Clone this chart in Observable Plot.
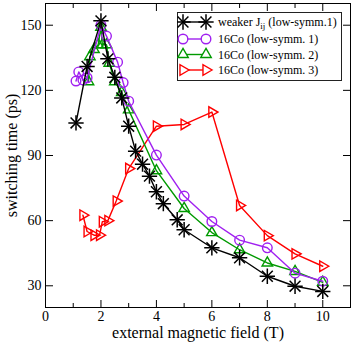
<!DOCTYPE html>
<html>
<head>
<meta charset="utf-8">
<script src="https://cdn.jsdelivr.net/npm/d3@7"></script>
<script src="https://cdn.jsdelivr.net/npm/@observablehq/plot@0.6"></script>
<style>
  html, body { margin: 0; padding: 0; background: white; }
  #wrap { position: relative; width: 353px; height: 342px; font-family: "Liberation Serif", "Times New Roman", serif; }
  #legend { position: absolute; left: 177px; top: 12px; }
</style>
</head>
<body>
<div id="wrap"><div id="chart"></div><div id="legend"></div></div>
<script>
// --- data ---
const weakerX = [1.1, 1.5, 2.0, 2.25, 2.5, 2.75, 3.0, 3.25, 3.5, 3.75, 4.0, 4.25, 4.75, 5.0, 6, 7, 8, 9, 10];
const weakerY = [105, 131, 152, 134.5, 126, 116.5, 103.5, 92, 86, 80.5, 73.3, 67.8, 60.4, 55.8, 47.5, 42.9, 34.4, 29.8, 27.4];

const sym1X = [1.1, 1.2, 1.35, 1.5, 2.0, 2.2, 2.6, 2.8, 3.0, 4, 5, 6, 7, 8, 9, 10];
const sym1Y = [124.3, 128.5, 124.8, 125.8, 150, 145, 133, 123.6, 115, 90.2, 71.3, 59.6, 51, 47.5, 35.8, 32.1];

const sym2X = [1.55, 1.6, 1.75, 1.9, 2.0, 2.05, 2.2, 2.3, 2.5, 2.75, 3.0, 4, 5, 6, 7, 8, 9, 10];
const sym2Y = [124, 135.5, 138.8, 141, 149, 141, 141, 132.5, 124, 119, 111, 83, 65.6, 54.5, 46.6, 40.5, 36.6, 31.6];

const sym3X = [1.35, 1.5, 1.75, 1.95, 2.05, 2.25, 2.55, 3.0, 4, 5, 6, 7, 8, 9, 10];
const sym3Y = [62.5, 55, 53.3, 53.3, 59.5, 60, 69, 84, 103.5, 104.3, 110, 67, 53.1, 44.7, 39];

const xMajor = [0, 2, 4, 6, 8, 10];
const xMinor = [1, 3, 5, 7, 9];
const yMajor = [30, 60, 90, 120, 150];

const seriesNames = ["weaker J_ij (low-symm.1)", "16Co (low-symm. 1)", "16Co (low-symm. 2)", "16Co (low-symm. 3)"];

// --- tables ---
const toRows = (xs, ys) => xs.map((x, i) => ({x, y: ys[i]}));
const weaker = toRows(weakerX, weakerY);
const s1 = toRows(sym1X, sym1Y);
const s2 = toRows(sym2X, sym2Y);
const s3 = toRows(sym3X, sym3Y);

const BLACK = "#000000", PURPLE = "#a020f0", GREEN = "#009a00", RED = "#ff0000";
const lw = 1.4;

const tickOnly = () => "";

const chart = Plot.plot({
  width: 353,
  height: 342,
  marginLeft: 45,
  marginRight: 3,
  marginTop: 3,
  marginBottom: 35,
  style: {fontFamily: "Liberation Serif, Times New Roman, serif", fontSize: "14px", background: "white", color: "black"},
  x: {domain: [0, 11]},
  y: {domain: [20, 160]},
  marks: [
    // axes: tick labels
    Plot.axisX(xMajor, {anchor: "bottom", tickSize: 0, tickPadding: 4, fontSize: 14, label: null}),
    Plot.axisY(yMajor, {anchor: "left", tickSize: 0, tickPadding: 4, fontSize: 14, label: null}),
    // axis titles
    Plot.axisX([], {anchor: "bottom", tickSize: 0, fontSize: 16,
      label: "external magnetic field (T)", labelAnchor: "center", labelOffset: 30, labelArrow: "none"}),
    Plot.axisY([], {anchor: "left", tickSize: 0, fontSize: 16,
      label: "switching time (ps)", labelAnchor: "center", labelOffset: 40, labelArrow: "none"}),
    // inward ticks
    Plot.axisX(xMajor, {anchor: "bottom", tickSize: -7, tickFormat: tickOnly, label: null}),
    Plot.axisX(xMinor, {anchor: "bottom", tickSize: -4, tickFormat: tickOnly, label: null}),
    Plot.axisX(xMajor, {anchor: "top", tickSize: -7, tickFormat: tickOnly, label: null}),
    Plot.axisX(xMinor, {anchor: "top", tickSize: -4, tickFormat: tickOnly, label: null}),
    Plot.axisY(yMajor, {anchor: "left", tickSize: -8, tickFormat: tickOnly, label: null}),
    Plot.axisY(yMajor, {anchor: "right", tickSize: -8, tickFormat: tickOnly, label: null}),

    // series 3 (red)
    Plot.line(s3, {x: "x", y: "y", stroke: RED, strokeWidth: lw}),
    Plot.dot(s3, {x: "x", y: "y", symbol: "triangle2", rotate: 90, r: 5, stroke: RED, strokeWidth: lw, fill: "none"}),
    // series 2 (green)
    Plot.line(s2, {x: "x", y: "y", stroke: GREEN, strokeWidth: lw}),
    Plot.dot(s2, {x: "x", y: "y", symbol: "triangle2", r: 5, stroke: GREEN, strokeWidth: lw, fill: "none"}),
    // series 1 (purple)
    Plot.line(s1, {x: "x", y: "y", stroke: PURPLE, strokeWidth: lw}),
    Plot.dot(s1, {x: "x", y: "y", symbol: "circle", r: 4.8, stroke: PURPLE, strokeWidth: lw, fill: "none"}),
    // weaker (black stars)
    Plot.line(weaker, {x: "x", y: "y", stroke: BLACK, strokeWidth: lw}),
    Plot.dot(weaker, {x: "x", y: "y", symbol: "plus", r: 5, stroke: BLACK, strokeWidth: 1.5}),
    Plot.dot(weaker, {x: "x", y: "y", symbol: "times", r: 5, stroke: BLACK, strokeWidth: 1.5}),

    Plot.frame({stroke: "black", strokeWidth: 1})
  ]
});
document.getElementById("chart").appendChild(chart);

// --- legend ---
const LW = 165, LH = 69;
const leg = d3.select("#legend").append("svg")
  .attr("width", LW).attr("height", LH)
  .style("display", "block")
  .style("font-family", "Liberation Serif, Times New Roman, serif")
  .style("font-size", "12px");
leg.append("rect").attr("x", 0.5).attr("y", 0.5).attr("width", LW - 1).attr("height", LH - 1)
  .attr("fill", "white").attr("stroke", "#222").attr("stroke-width", 1);

const rowsY = [10, 27, 42.5, 58];
const colors = [BLACK, PURPLE, GREEN, RED];
const mx = [6, 29];
const sz = r => Math.PI * r * r;

rowsY.forEach((yy, i) => {
  const g = leg.append("g");
  g.append("line").attr("x1", mx[0]).attr("x2", mx[1]).attr("y1", yy).attr("y2", yy)
    .attr("stroke", colors[i]).attr("stroke-width", lw);
  mx.forEach(xx => {
    if (i === 0) {
      [d3.symbolPlus, d3.symbolTimes].forEach(s => {
        g.append("path").attr("d", d3.symbol(s, sz(5))()).attr("transform", `translate(${xx},${yy})`)
          .attr("fill", "none").attr("stroke", BLACK).attr("stroke-width", 1.5);
      });
    } else if (i === 1) {
      g.append("path").attr("d", d3.symbol(d3.symbolCircle, sz(4.8))()).attr("transform", `translate(${xx},${yy})`)
        .attr("fill", "white").attr("stroke", PURPLE).attr("stroke-width", lw);
    } else {
      g.append("path").attr("d", d3.symbol(d3.symbolTriangle2, sz(5))())
        .attr("transform", `translate(${xx},${yy})` + (i === 3 ? " rotate(90)" : ""))
        .attr("fill", "white").attr("stroke", colors[i]).attr("stroke-width", lw);
    }
  });
  const t = g.append("text").attr("x", 41).attr("y", yy).attr("dy", "0.35em").attr("fill", "black");
  if (i === 0) {
    const [pre, rest] = seriesNames[0].split("_ij");
    t.append("tspan").text(pre);
    t.append("tspan").attr("dy", 3).attr("font-size", "9px").text("ij");
    t.append("tspan").attr("dy", -3).text(rest);
  } else {
    t.text(seriesNames[i]);
  }
});
</script>
</body>
</html>
